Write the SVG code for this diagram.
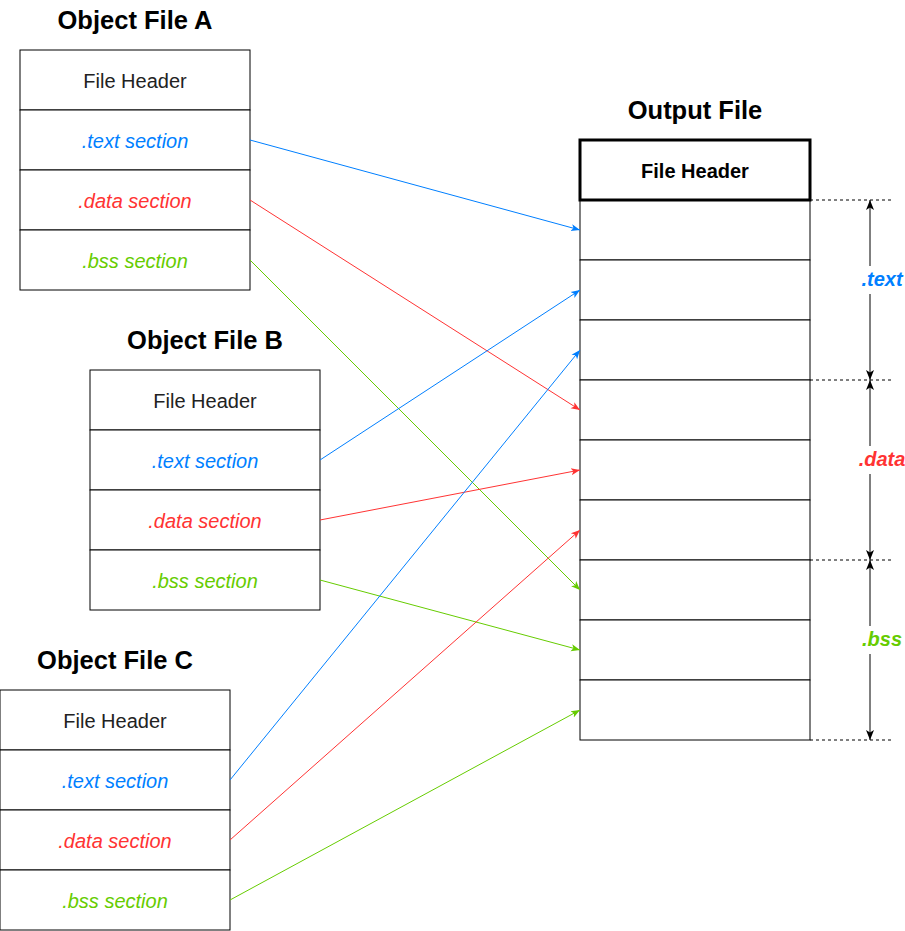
<svg xmlns="http://www.w3.org/2000/svg" width="905" height="931" viewBox="0 0 905 931">
<style>
.box{fill:#fff;stroke:#000;stroke-width:1}
.hdr{fill:#fff;stroke:#000;stroke-width:3}
.t{font-family:"Liberation Sans",Arial,sans-serif;font-size:20px;text-anchor:middle;dominant-baseline:central}
.title{font-family:"Liberation Sans",Arial,sans-serif;font-size:25.5px;font-weight:bold;text-anchor:middle;dominant-baseline:central}
.hd{fill:#222}
.tx{fill:#007FFF;font-style:italic}
.da{fill:#FF3333;font-style:italic}
.bs{fill:#66CC00;font-style:italic}
.lb{font-family:"Liberation Sans",Arial,sans-serif;font-size:20px;font-weight:bold;font-style:italic;text-anchor:middle;dominant-baseline:central}
.dash{stroke:#000;stroke-width:1;stroke-dasharray:3 3;fill:none}
.dim{stroke:#000;stroke-width:1;fill:none}
</style>
<defs>
<marker id="ab" viewBox="0 0 10 10" refX="10" refY="5" markerWidth="9" markerHeight="9" markerUnits="userSpaceOnUse" orient="auto"><path d="M0,1 L10,5 L0,9 L2.5,5 Z" fill="#007FFF"/></marker>
<marker id="ar" viewBox="0 0 10 10" refX="10" refY="5" markerWidth="9" markerHeight="9" markerUnits="userSpaceOnUse" orient="auto"><path d="M0,1 L10,5 L0,9 L2.5,5 Z" fill="#FF3333"/></marker>
<marker id="ag" viewBox="0 0 10 10" refX="10" refY="5" markerWidth="9" markerHeight="9" markerUnits="userSpaceOnUse" orient="auto"><path d="M0,1 L10,5 L0,9 L2.5,5 Z" fill="#66CC00"/></marker>
<marker id="ak" viewBox="0 0 10 10" refX="10" refY="5" markerWidth="10" markerHeight="10" markerUnits="userSpaceOnUse" orient="auto-start-reverse"><path d="M0,1 L10,5 L0,9 L2.5,5 Z" fill="#000"/></marker>
</defs>
<rect width="905" height="931" fill="#fff"/>

<g id="fileA">
<text class="title" x="135" y="20">Object File A</text>
<rect class="box" x="20" y="50" width="230" height="60"/>
<rect class="box" x="20" y="110" width="230" height="60"/>
<rect class="box" x="20" y="170" width="230" height="60"/>
<rect class="box" x="20" y="230" width="230" height="60"/>
<text class="t hd" x="135" y="81">File Header</text>
<text class="t tx" x="135" y="141">.text section</text>
<text class="t da" x="135" y="201">.data section</text>
<text class="t bs" x="135" y="261">.bss section</text>
</g>

<g id="fileB">
<text class="title" x="205" y="340">Object File B</text>
<rect class="box" x="90" y="370" width="230" height="60"/>
<rect class="box" x="90" y="430" width="230" height="60"/>
<rect class="box" x="90" y="490" width="230" height="60"/>
<rect class="box" x="90" y="550" width="230" height="60"/>
<text class="t hd" x="205" y="401">File Header</text>
<text class="t tx" x="205" y="461">.text section</text>
<text class="t da" x="205" y="521">.data section</text>
<text class="t bs" x="205" y="581">.bss section</text>
</g>

<g id="fileC">
<text class="title" x="115" y="660">Object File C</text>
<rect class="box" x="0" y="690" width="230" height="60"/>
<rect class="box" x="0" y="750" width="230" height="60"/>
<rect class="box" x="0" y="810" width="230" height="60"/>
<rect class="box" x="0" y="870" width="230" height="60"/>
<text class="t hd" x="115" y="721">File Header</text>
<text class="t tx" x="115" y="781">.text section</text>
<text class="t da" x="115" y="841">.data section</text>
<text class="t bs" x="115" y="901">.bss section</text>
</g>

<g id="output">
<text class="title" x="695" y="110">Output File</text>
<rect class="box" x="580" y="200" width="230" height="60"/>
<rect class="box" x="580" y="260" width="230" height="60"/>
<rect class="box" x="580" y="320" width="230" height="60"/>
<rect class="box" x="580" y="380" width="230" height="60"/>
<rect class="box" x="580" y="440" width="230" height="60"/>
<rect class="box" x="580" y="500" width="230" height="60"/>
<rect class="box" x="580" y="560" width="230" height="60"/>
<rect class="box" x="580" y="620" width="230" height="60"/>
<rect class="box" x="580" y="680" width="230" height="60"/>
<rect class="hdr" x="580" y="140" width="230" height="60"/>
<text class="t" x="695" y="171" font-weight="bold">File Header</text>
</g>

<g id="connectors" fill="none" stroke-width="1">
<line x1="250" y1="140" x2="580" y2="230" stroke="#007FFF" marker-end="url(#ab)"/>
<line x1="250" y1="200" x2="580" y2="410" stroke="#FF3333" marker-end="url(#ar)"/>
<line x1="250" y1="260" x2="580" y2="590" stroke="#66CC00" marker-end="url(#ag)"/>
<line x1="320" y1="460" x2="580" y2="290" stroke="#007FFF" marker-end="url(#ab)"/>
<line x1="320" y1="520" x2="580" y2="470" stroke="#FF3333" marker-end="url(#ar)"/>
<line x1="320" y1="580" x2="580" y2="650" stroke="#66CC00" marker-end="url(#ag)"/>
<line x1="230" y1="780" x2="580" y2="350" stroke="#007FFF" marker-end="url(#ab)"/>
<line x1="230" y1="840" x2="580" y2="530" stroke="#FF3333" marker-end="url(#ar)"/>
<line x1="230" y1="900" x2="580" y2="710" stroke="#66CC00" marker-end="url(#ag)"/>
</g>

<g id="dimensions">
<line class="dash" x1="810" y1="200" x2="892" y2="200"/>
<line class="dash" x1="810" y1="380" x2="892" y2="380" stroke="#666"/>
<line class="dash" x1="810" y1="560" x2="892" y2="560"/>
<line class="dash" x1="810" y1="740" x2="892" y2="740"/>
<line class="dim" x1="870" y1="200" x2="870" y2="380" marker-start="url(#ak)" marker-end="url(#ak)"/>
<line class="dim" x1="870" y1="380" x2="870" y2="560" marker-start="url(#ak)" marker-end="url(#ak)"/>
<line class="dim" x1="870" y1="560" x2="870" y2="740" marker-start="url(#ak)" marker-end="url(#ak)"/>
<rect x="856" y="266" width="50" height="28" fill="#fff"/>
<rect x="856" y="446" width="50" height="28" fill="#fff"/>
<rect x="856" y="626" width="50" height="28" fill="#fff"/>
<text class="lb" x="882" y="279" fill="#007FFF">.text</text>
<text class="lb" x="882" y="459" fill="#FF3333">.data</text>
<text class="lb" x="882" y="639" fill="#66CC00">.bss</text>
</g>
</svg>
